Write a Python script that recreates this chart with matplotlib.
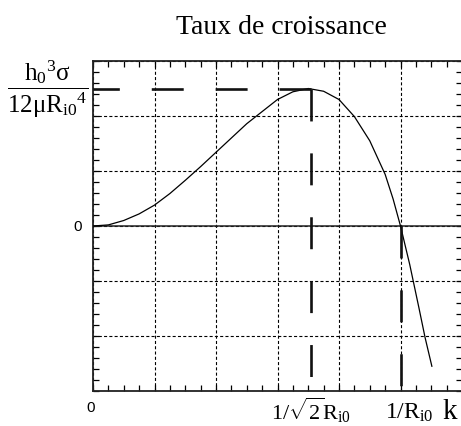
import matplotlib
matplotlib.use("Agg")
import matplotlib.pyplot as plt
from matplotlib.ticker import MultipleLocator

plt.rcParams['mathtext.fontset'] = 'custom'
plt.rcParams['mathtext.rm'] = 'Liberation Serif'
plt.rcParams['mathtext.it'] = 'Liberation Serif'
plt.rcParams['mathtext.bf'] = 'Liberation Serif'
plt.rcParams['lines.scale_dashes'] = False

# Growth-rate curve (k in grid units, sigma in grid units)
k_vals = [0.0, 0.25, 0.5, 0.75, 1.0, 1.25, 1.5, 1.75, 2.0, 2.25, 2.5, 2.75, 3.0,
          3.25, 3.5, 3.75, 4.0, 4.25, 4.5, 4.75, 4.88, 5.0, 5.15, 5.3, 5.4, 5.51]
sigma_vals = [0.0, 0.02, 0.10, 0.22, 0.38, 0.59, 0.83, 1.08, 1.34, 1.60, 1.86, 2.08, 2.30,
              2.44, 2.50, 2.45, 2.30, 1.99, 1.55, 0.94, 0.49, 0.0, -0.70, -1.49, -2.03, -2.55]

k_peak = 3.54
sigma_peak = 2.5
k_cut = 5.0

x_limits = (0, 6)
y_limits = (-3, 3)

title_text = "Taux de croissance"
ylabel_text = r'$\dfrac{\mathrm{h}_0{}^{3}\sigma}{12\mu\mathrm{R}_{\mathrm{i0}}{}^{4}}$'
xtick_labels = ['0', r'$1/\sqrt{2}\mathrm{R}_{\mathrm{i0}}$', r'$1/\mathrm{R}_{\mathrm{i0}}$']
ytick_label = '0'

W, H = 461, 427
fig = plt.figure(figsize=(W / 100, H / 100), dpi=100)
ax = fig.add_axes([93 / W, 35 / H, 369 / W, 330 / H])

ax.set_xlim(*x_limits)
ax.set_ylim(*y_limits)

ax.xaxis.set_major_locator(MultipleLocator(1))
ax.xaxis.set_minor_locator(MultipleLocator(0.25))
ax.yaxis.set_major_locator(MultipleLocator(1))
ax.yaxis.set_minor_locator(MultipleLocator(0.2))
ax.tick_params(which='both', direction='in', top=True, right=True,
               labelbottom=False, labelleft=False, length=4, width=0.9, color='black')

ax.grid(True, which='major', color='black', linestyle=(0, (2.2, 1.6)), linewidth=0.8)

for s in ax.spines.values():
    s.set_linewidth(1.3)
    s.set_color('#222222')

# zero line
ax.axhline(0, color='#222222', linewidth=1.1, zorder=3)

# curve
ax.plot(k_vals, sigma_vals, color='black', linewidth=0.9, zorder=4)

# thick dashed guides
dash = (0, (23, 23))
ax.plot([k_peak, 0], [sigma_peak, sigma_peak], color='#111111', linewidth=1.9,
        linestyle=dash, zorder=5, dash_capstyle='butt')
ax.plot([k_peak, k_peak], [sigma_peak, y_limits[0]], color='#111111', linewidth=1.9,
        linestyle=dash, zorder=5, dash_capstyle='butt')
ax.plot([k_cut, k_cut], [0, y_limits[0]], color='#111111', linewidth=1.9,
        linestyle=dash, zorder=5, dash_capstyle='butt')

# texts
fig.text(281 / W, 1 - 28 / H, title_text, ha='center', va='center',
         family='Liberation Serif', fontsize=20)
fig.text(48 / W, 1 - 89 / H, ylabel_text, ha='center', va='center', fontsize=18)

ax.text(-0.25, 0, ytick_label, ha='center', va='center', family='Liberation Sans',
        fontsize=11)
ax.text(-0.04, -3.3, xtick_labels[0], ha='center', va='center', family='Liberation Sans',
        fontsize=11)
ax.text(k_peak, -3.34, xtick_labels[1], ha='center', va='center', fontsize=16)
ax.text(k_cut + 0.15, -3.36, xtick_labels[2], ha='center', va='center', fontsize=17)
ax.text(5.8, -3.36, 'k', ha='center', va='center', family='Liberation Serif', fontsize=21)

fig.savefig('out.png', dpi=100)
